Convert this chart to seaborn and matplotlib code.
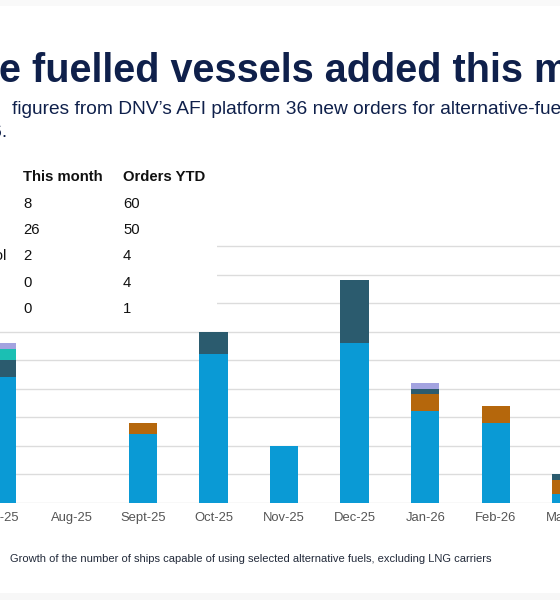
import matplotlib
matplotlib.use("Agg")
import matplotlib.pyplot as plt
from matplotlib.patches import Rectangle
import numpy as np
import pandas as pd
import seaborn as sns

# data (vessels added per month, by fuel)
months = ["Jul-25", "Aug-25", "Sept-25", "Oct-25", "Nov-25",
          "Dec-25", "Jan-26", "Feb-26", "Mar-26"]
lng = [44, 0, 24, 52, 20, 56, 32, 28, 3]
lpg = [0, 0, 4, 0, 0, 0, 6, 6, 5]
methanol = [6, 0, 0, 8, 0, 22, 2, 0, 2]
ammonia = [4, 0, 0, 0, 0, 0, 0, 0, 0]
hydrogen = [2, 0, 0, 0, 0, 0, 2, 0, 0]

# the small table (legend) - only the right part is visible
table_labels = ["", "", "Methanol", "", ""]
this_month = ["8", "26", "2", "0", "0"]
orders_ytd = ["60", "50", "4", "4", "1"]

fuels = ["LNG", "LPG", "Methanol", "Ammonia", "Hydrogen"]
colors = {"LNG": "#0a9ad5", "LPG": "#b5670c", "Methanol": "#2b5b6e",
          "Ammonia": "#1bbfb3", "Hydrogen": "#a3a3e0"}

df = pd.DataFrame({"month": months, "LNG": lng, "LPG": lpg,
                   "Methanol": methanol, "Ammonia": ammonia,
                   "Hydrogen": hydrogen})
# cumulative heights for stacking
cum = df[fuels].cumsum(axis=1)
cum["month"] = df["month"]

W, H = 560, 600
NAVY = "#0f204b"
FONT = "Liberation Sans"


def px(x, y):
    return x / W, 1 - y / H


sns.set_style("white")
plt.rcParams["font.family"] = [FONT, "DejaVu Sans"]

fig = plt.figure(figsize=(W / 100, H / 100), dpi=100)
fig.patch.set_facecolor("white")

# axes runs past both edges of the picture (the reference is a crop)
x_step = 70.6
x0 = 1.6
ax_l, ax_r = -40, 600
base_y, unit = 502.7, 2.852
ymax = 91
ax = fig.add_axes([ax_l / W, (H - base_y) / H, (ax_r - ax_l) / W, ymax * unit / H])

for f in reversed(fuels):
    sns.barplot(data=cum, x="month", y=f, order=months, color=colors[f],
                width=0.4, saturation=1, errorbar=None, linewidth=0, ax=ax)

ax.set_xlim((ax_l - x0) / x_step, (ax_r - x0) / x_step)
ax.set_ylim(0, ymax)
ax.set_yticks(np.arange(0, 100, 10))
ax.set_yticklabels([])
ax.yaxis.grid(True, color="#dcdcdc", linewidth=1)
ax.set_axisbelow(True)
ax.tick_params(axis="both", length=0)
ax.tick_params(axis="x", pad=7, labelsize=9.4, labelcolor="#555555")
ax.set_xlabel("")
ax.set_ylabel("")
sns.despine(ax=ax, left=True, bottom=True)

# white box behind the table hides the upper gridlines
bx0, by0 = px(0, 322)
bx1, by1 = px(217, 150)
fig.add_artist(Rectangle((bx0, by0), bx1 - bx0, by1 - by0,
                         transform=fig.transFigure, facecolor="white",
                         edgecolor="none", zorder=2))

# light bands at top and bottom edge
fig.add_artist(Rectangle(px(0, 6), 1, 6 / H, transform=fig.transFigure,
                         facecolor="#f9f9f9", edgecolor="none", zorder=2))
fig.add_artist(Rectangle(px(0, 600), 1, 7 / H, transform=fig.transFigure,
                         facecolor="#f7f7f7", edgecolor="none", zorder=2))

# title and subtitle
fig.text(*px(-1, 82.5), "e fuelled vessels added this month", fontsize=28.5,
         fontweight="bold", color=NAVY, va="baseline", ha="left", zorder=3)
fig.text(*px(12, 114.3),
         "figures from DNV\u2019s AFI platform 36 new orders for alternative-fuelled vessels",
         fontsize=13.75, color=NAVY, va="baseline", ha="left", zorder=3)
fig.text(*px(7.5, 136.7), "2026.", fontsize=13.75, color=NAVY,
         va="baseline", ha="right", zorder=3)

# table
fig.text(*px(23, 180.7), "This month", fontsize=10.7, fontweight="bold",
         color="#111111", va="baseline", zorder=3)
fig.text(*px(123, 180.7), "Orders YTD", fontsize=10.7, fontweight="bold",
         color="#111111", va="baseline", zorder=3)
for i, (lab, a, b) in enumerate(zip(table_labels, this_month, orders_ytd)):
    y = 208.3 + i * 26.1
    if lab:
        fig.text(*px(7, y), lab, fontsize=10.7, color="#111111",
                 va="baseline", ha="right", zorder=3)
    fig.text(*px(23, y), a, fontsize=10.7, color="#111111", va="baseline", zorder=3)
    fig.text(*px(123, y), b, fontsize=10.7, color="#111111", va="baseline", zorder=3)

# caption
fig.text(*px(10, 562.5),
         "Growth of the number of ships capable of using selected alternative fuels, excluding LNG carriers",
         fontsize=8.05, color="#222a3a", va="baseline", ha="left", zorder=3)

fig.savefig("out.png", dpi=100)
